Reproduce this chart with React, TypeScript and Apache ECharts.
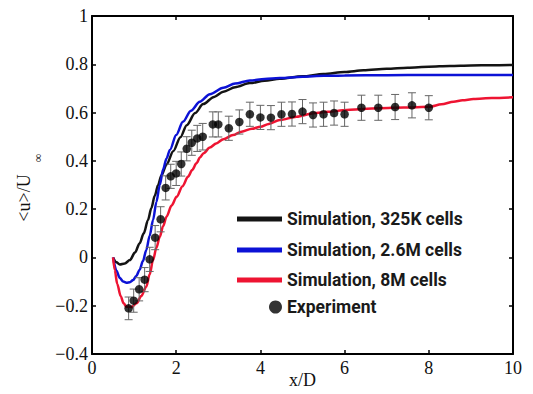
import React, { useEffect, useRef } from "react";
import * as echarts from "echarts";

const xTicks = [0, 2, 4, 6, 8, 10];
const yTickMin = -0.4;
const yTickMax = 1;

const seriesNames = [
  "Simulation, 325K cells",
  "Simulation, 2.6M cells",
  "Simulation, 8M cells",
  "Experiment",
];

const blackX = [0.5, 0.58, 0.66, 0.78, 0.9, 1.02, 1.13, 1.23, 1.33, 1.41, 1.49, 1.57, 1.65, 1.77, 1.93, 2.1, 2.25, 2.45, 2.64, 2.9, 3.12, 3.4, 3.75, 4.1, 4.46, 5.0, 5.5, 6.0, 6.45, 7.0, 7.5, 8.0, 8.5, 9.0, 9.5, 10];
const blackY = [0, -0.02, -0.029, -0.025, -0.011, 0.02, 0.058, 0.1, 0.155, 0.205, 0.255, 0.3, 0.34, 0.385, 0.44, 0.498, 0.548, 0.598, 0.635, 0.665, 0.686, 0.705, 0.722, 0.732, 0.74, 0.75, 0.76, 0.768, 0.775, 0.781, 0.786, 0.79, 0.793, 0.795, 0.796, 0.797];

const blueX = [0.5, 0.58, 0.66, 0.74, 0.82, 0.9, 0.975, 1.05, 1.13, 1.21, 1.29, 1.37, 1.45, 1.53, 1.61, 1.69, 1.77, 1.85, 2.0, 2.16, 2.35, 2.56, 2.8, 3.12, 3.4, 3.75, 4.1, 4.46, 5.0, 5.5, 6.0, 7.0, 8.0, 9.0, 10];
const blueY = [0, -0.055, -0.085, -0.1, -0.105, -0.103, -0.094, -0.077, -0.052, -0.015, 0.031, 0.09, 0.155, 0.23, 0.3, 0.365, 0.41, 0.445, 0.507, 0.562, 0.608, 0.645, 0.676, 0.703, 0.72, 0.733, 0.739, 0.743, 0.748, 0.752, 0.754, 0.755, 0.756, 0.756, 0.756];

const redX = [0.5, 0.54, 0.6, 0.68, 0.75, 0.82, 0.94, 1.06, 1.17, 1.29, 1.37, 1.45, 1.53, 1.61, 1.69, 1.77, 1.89, 2.01, 2.15, 2.28, 2.38, 2.48, 2.57, 2.65, 2.8, 2.95, 3.12, 3.35, 3.55, 3.8, 4.0, 4.2, 4.46, 4.86, 5.26, 5.6, 6.05, 6.45, 6.85, 7.4, 8.03, 8.3, 8.59, 8.8, 9.06, 9.5, 10];
const redY = [0, -0.052, -0.11, -0.16, -0.19, -0.204, -0.205, -0.19, -0.16, -0.121, -0.07, -0.011, 0.04, 0.086, 0.13, 0.169, 0.215, 0.251, 0.295, 0.334, 0.362, 0.39, 0.415, 0.432, 0.455, 0.472, 0.49, 0.507, 0.521, 0.533, 0.541, 0.553, 0.569, 0.583, 0.597, 0.603, 0.611, 0.615, 0.618, 0.621, 0.624, 0.634, 0.645, 0.651, 0.656, 0.66, 0.663];

const expX = [0.87, 0.99, 1.12, 1.25, 1.37, 1.5, 1.63, 1.75, 1.87, 2.0, 2.12, 2.25, 2.37, 2.5, 2.63, 2.87, 3.0, 3.25, 3.5, 3.75, 4.0, 4.25, 4.5, 4.75, 5.0, 5.25, 5.5, 5.75, 6.0, 6.4, 6.8, 7.2, 7.6, 8.0];
const expY = [-0.211, -0.179, -0.132, -0.092, -0.008, 0.082, 0.158, 0.288, 0.336, 0.348, 0.387, 0.45, 0.475, 0.493, 0.5, 0.551, 0.551, 0.535, 0.561, 0.593, 0.58, 0.579, 0.593, 0.594, 0.604, 0.59, 0.593, 0.598, 0.593, 0.62, 0.62, 0.623, 0.63, 0.62];
const expErr = [0.047, 0.048, 0.048, 0.05, 0.05, 0.05, 0.052, 0.05, 0.05, 0.05, 0.05, 0.05, 0.052, 0.054, 0.055, 0.052, 0.052, 0.05, 0.05, 0.05, 0.05, 0.05, 0.05, 0.05, 0.05, 0.05, 0.05, 0.05, 0.05, 0.052, 0.052, 0.052, 0.052, 0.05];

const COLORS = ["#141414", "#0c12d6", "#ee1432"];

const zip = (xs: number[], ys: number[]) => xs.map((x, i) => [x, ys[i]]);

const fmtY = (v: number) => {
  let s: string;
  if (Math.abs(v) < 1e-9) s = "0";
  else if (Math.abs(v - 1) < 1e-9) s = "1";
  else s = (v < 0 ? "\u2212" : "") + Math.abs(v).toFixed(1);
  return "{t|" + s + "}";
};
const fmtX = (v: number) => "{t|" + String(Math.round(v)) + "}";

export default function App() {
  const ref = useRef<HTMLDivElement>(null);
  useEffect(() => {
    if (!ref.current) return;
    const chart = echarts.init(ref.current, undefined, { renderer: "svg" });
    const axisLine = { show: true, onZero: false, lineStyle: { color: "#000", width: 2 } };
    const tick = { show: true, inside: true, length: 4, lineStyle: { color: "#000", width: 1.5 } };
    const SERIF = "Liberation Serif";
    const serifRich = { t: { fontFamily: SERIF, fontSize: 18, color: "#111" } };
    const labelStyle = { fontFamily: SERIF, fontSize: 18, color: "#111", rich: serifRich };
    const legendText = { fontFamily: "Roboto", fontWeight: "bold" as const, fontSize: 17.5, color: "#1a1a1a", lineHeight: 20 };
    const rowCenters = [219, 250, 280, 307];
    const lineLegend = (i: number) => ({
      data: [seriesNames[i]],
      left: 237,
      top: rowCenters[i] - 10,
      padding: 0,
      icon: "rect",
      itemWidth: 45,
      itemHeight: 5,
      textStyle: legendText,
      selectedMode: false,
    });
    const option: any = {
      animation: false,
      backgroundColor: "#fff",
      textStyle: { fontFamily: SERIF },
      grid: { left: 92, right: 20, top: 16, bottom: 40, containLabel: false, outerBoundsMode: "none" },
      legend: [
        lineLegend(0),
        lineLegend(1),
        lineLegend(2),
        {
          data: [seriesNames[3]],
          left: 269,
          top: rowCenters[3] - 10,
          padding: 0,
          icon: "circle",
          itemWidth: 13,
          itemHeight: 13,
          textStyle: legendText,
          selectedMode: false,
        },
      ],
      xAxis: [
        {
          type: "value",
          min: xTicks[0],
          max: xTicks[xTicks.length - 1],
          interval: 2,
          position: "bottom",
          name: "x/D",
          nameLocation: "middle",
          nameGap: 17,
          nameMoveOverlap: false,
          nameTextStyle: { fontFamily: SERIF, fontSize: 18, color: "#111", verticalAlign: "top" },
          axisLine,
          axisTick: tick,
          splitLine: { show: false },
          axisLabel: { ...labelStyle, margin: 5, formatter: fmtX },
        },
        {
          type: "value",
          min: xTicks[0],
          max: xTicks[xTicks.length - 1],
          interval: 2,
          position: "top",
          axisLine,
          axisTick: tick,
          splitLine: { show: false },
          axisLabel: { show: false },
        },
      ],
      yAxis: [
        {
          type: "value",
          min: yTickMin,
          max: yTickMax,
          interval: 0.2,
          position: "left",
          axisLine,
          axisTick: tick,
          splitLine: { show: false },
          axisLabel: { ...labelStyle, margin: 4, formatter: fmtY },
        },
        {
          type: "value",
          min: yTickMin,
          max: yTickMax,
          interval: 0.2,
          position: "right",
          axisLine,
          axisTick: tick,
          splitLine: { show: false },
          axisLabel: { show: false },
        },
      ],
      graphic: [
        {
          type: "text",
          x: 24,
          y: 198,
          rotation: Math.PI / 2,
          style: {
            text: "<u>/U",
            fontFamily: SERIF,
            fontSize: 18,
            fill: "#111",
            align: "center",
            verticalAlign: "middle",
          },
        },
        {
          type: "text",
          x: 38,
          y: 158,
          rotation: Math.PI / 2,
          style: {
            text: "\u221e",
            fontFamily: SERIF,
            fontSize: 12,
            fill: "#111",
            align: "center",
            verticalAlign: "middle",
          },
        },
      ],
      series: [
        {
          name: seriesNames[0],
          type: "line",
          data: zip(blackX, blackY),
          symbol: "none",
          smooth: 0.3,
          smoothMonotone: "x",
          lineStyle: { color: COLORS[0], width: 2.5 },
          itemStyle: { color: COLORS[0] },
          z: 2,
        },
        {
          name: seriesNames[1],
          type: "line",
          data: zip(blueX, blueY),
          symbol: "none",
          smooth: 0.3,
          smoothMonotone: "x",
          lineStyle: { color: COLORS[1], width: 2.5 },
          itemStyle: { color: COLORS[1] },
          z: 3,
        },
        {
          name: seriesNames[2],
          type: "line",
          data: zip(redX, redY),
          symbol: "none",
          smooth: 0.3,
          smoothMonotone: "x",
          lineStyle: { color: COLORS[2], width: 2.5 },
          itemStyle: { color: COLORS[2] },
          z: 4,
        },
        {
          name: "errorbars",
          type: "custom",
          data: expX.map((x, i) => [x, expY[i], expErr[i]]),
          encode: { x: 0, y: 1 },
          z: 5,
          silent: true,
          renderItem: (params: any, api: any) => {
            const x = api.value(0);
            const y = api.value(1);
            const e = api.value(2);
            const top = api.coord([x, y + e]);
            const bot = api.coord([x, y - e]);
            const hw = 4;
            const style = { stroke: "#666", lineWidth: 1 };
            return {
              type: "group",
              children: [
                { type: "line", shape: { x1: top[0], y1: top[1], x2: bot[0], y2: bot[1] }, style },
                { type: "line", shape: { x1: top[0] - hw, y1: top[1], x2: top[0] + hw, y2: top[1] }, style },
                { type: "line", shape: { x1: bot[0] - hw, y1: bot[1], x2: bot[0] + hw, y2: bot[1] }, style },
              ],
            };
          },
        },
        {
          name: seriesNames[3],
          type: "scatter",
          data: zip(expX, expY),
          symbol: "circle",
          symbolSize: 8.5,
          itemStyle: { color: "#000" },
          z: 6,
        },
      ],
    };
    chart.setOption(option);
    return () => chart.dispose();
  }, []);
  return <div ref={ref} style={{ width: 533, height: 394, position: "absolute", left: 0, top: 0, background: "#fff" }} />;
}
